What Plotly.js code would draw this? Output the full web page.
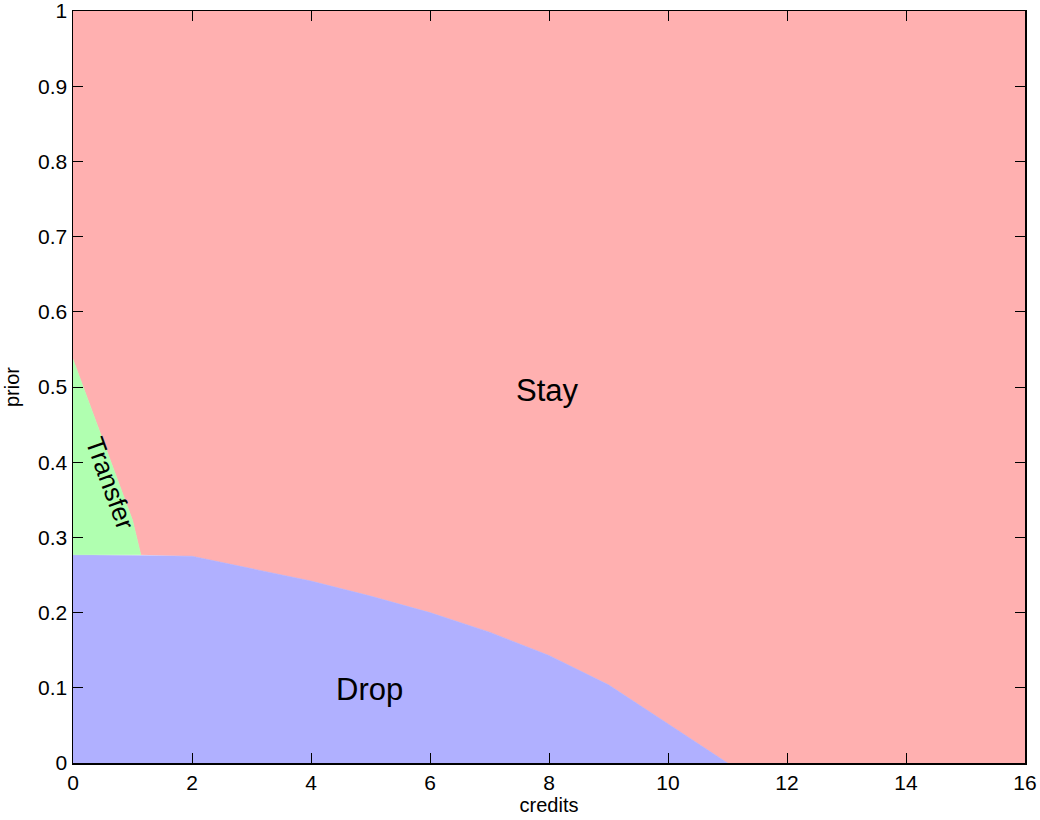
<!DOCTYPE html>
<html>
<head>
<meta charset="utf-8">
<script src="https://cdn.plot.ly/plotly-3.0.1.min.js"></script>
<style>html,body{margin:0;padding:0;background:#fff;}#chart{width:1040px;height:820px;}</style>
</head>
<body>
<div id="chart"></div>
<script>
// Drop / Stay boundary (credits -> prior)
const dropX = [0, 2, 3, 4, 5, 6, 7, 8, 9, 10, 11];
const dropY = [0.277, 0.275, 0.259, 0.242, 0.222, 0.200, 0.174, 0.143, 0.104, 0.052, 0];
// Transfer / Stay boundary
const transferX = [0, 1, 1.14];
const transferY = [0.537, 0.323, 0.277];
const xMax = 16, yMax = 1;
const regionLabels = ["Stay", "Drop", "Transfer"];
const labelX = [7.98, 4.99, 0.62];
const labelY = [0.496, 0.098, 0.372];
const xTicks = [0, 2, 4, 6, 8, 10, 12, 14, 16];
const yTicks = [0, 0.1, 0.2, 0.3, 0.4, 0.5, 0.6, 0.7, 0.8, 0.9, 1];
const yTickText = ["0", "0.1", "0.2", "0.3", "0.4", "0.5", "0.6", "0.7", "0.8", "0.9", "1"];

const cStay = "rgb(255,176,176)", cDrop = "rgb(176,176,255)", cTransfer = "rgb(176,255,176)";

// Drop polygon
const dPx = [0].concat(dropX, [0]);
const dPy = [0].concat(dropY, [0]);
// Transfer polygon
const tPx = [0].concat(transferX, [0]);
const tPy = [dropY[0]].concat(transferY, [dropY[0]]);
// Stay polygon
const sPx = [0, xMax, xMax].concat(dropX.slice(1).reverse(), transferX.slice().reverse());
const sPy = [yMax, yMax, 0].concat(dropY.slice(1).reverse(), transferY.slice().reverse());

const poly = (x, y, c) => ({x: x, y: y, type: "scatter", mode: "lines", fill: "toself",
  fillcolor: c, line: {width: 0.5, color: c}, hoverinfo: "skip", showlegend: false});

const data = [poly(sPx, sPy, cStay), poly(dPx, dPy, cDrop), poly(tPx, tPy, cTransfer)];

const fontFam = "Liberation Sans, Arial, sans-serif";
const layout = {
  width: 1040, height: 820,
  margin: {l: 73, r: 15, t: 11, b: 57},
  paper_bgcolor: "#fff", plot_bgcolor: "#fff",
  showlegend: false,
  font: {family: fontFam, color: "#000", size: 21},
  xaxis: {range: [0, xMax], tickvals: xTicks, ticks: "inside", ticklen: 10, tickcolor: "#000",
    showline: true, linecolor: "#000", linewidth: 1.5, mirror: "ticks", showgrid: false, zeroline: false,
    ticklabeloverflow: "allow",
    title: {text: "credits", font: {size: 20}, standoff: 4}, tickfont: {size: 21}, fixedrange: true},
  yaxis: {range: [0, yMax], tickvals: yTicks, ticktext: yTickText, ticks: "inside", ticklen: 10, tickcolor: "#000",
    showline: true, linecolor: "#000", linewidth: 1.5, mirror: "ticks", showgrid: false, zeroline: false,
    ticklabeloverflow: "allow",
    title: {text: "prior", font: {size: 20}, standoff: 13}, tickfont: {size: 21}, fixedrange: true},
  annotations: [
    {x: labelX[0], y: labelY[0], text: regionLabels[0], showarrow: false, font: {size: 31}},
    {x: labelX[1], y: labelY[1], text: regionLabels[1], showarrow: false, font: {size: 31}},
    {x: labelX[2], y: labelY[2], text: regionLabels[2], showarrow: false, font: {size: 26}, textangle: 70}
  ]
};
Plotly.newPlot("chart", data, layout, {displayModeBar: false, staticPlot: true});
</script>
</body>
</html>
